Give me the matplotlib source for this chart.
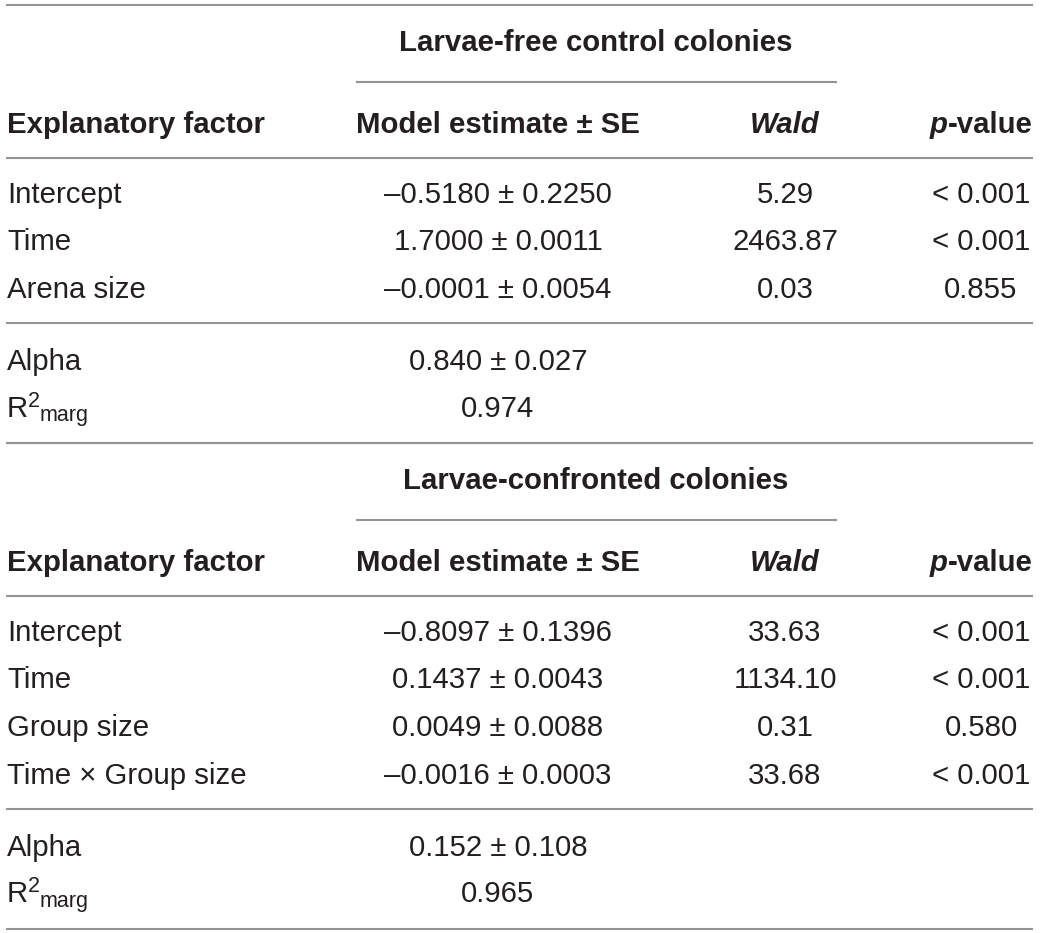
import matplotlib.pyplot as plt

# ---- table data ----
title1 = "Larvae-free control colonies"
factors1 = ["Intercept", "Time", "Arena size"]
est1 = [-0.5180, 1.7000, -0.0001]
se1 = [0.2250, 0.0011, 0.0054]
wald1 = [5.29, 2463.87, 0.03]
pval1 = ["< 0.001", "< 0.001", "0.855"]
alpha1 = (0.840, 0.027)
r2marg1 = 0.974

title2 = "Larvae-confronted colonies"
factors2 = ["Intercept", "Time", "Group size", "Time \u00d7 Group size"]
est2 = [-0.8097, 0.1437, 0.0049, -0.0016]
se2 = [0.1396, 0.0043, 0.0088, 0.0003]
wald2 = [33.63, 1134.10, 0.31, 33.68]
pval2 = ["< 0.001", "< 0.001", "0.580", "< 0.001"]
alpha2 = (0.152, 0.108)
r2marg2 = 0.965

plt.rcParams['font.family'] = ['Liberation Sans', 'DejaVu Sans']
TXT = "#231f20"
LINE = "#939393"
FS = 21.2
FS_SMALL = 15.5

X_LEFT = 7
X_EST = 498
X_WALD = 785
X_P = 981
ROW = 47.5


def fmt(v, nd):
    s = f"{v:.{nd}f}"
    return s.replace("-", "\u2013")


def hline(ax, y, x0=6, x1=1033):
    ax.plot([x0, x1], [y, y], color=LINE, lw=1.5, solid_capstyle="butt")


def draw_table(ax, top, title, factors, est, se, wald, pval, alpha, r2):
    hline(ax, top)
    ax.text(596, top + 46, title, ha="center", va="baseline", fontsize=FS,
            fontweight="bold", color=TXT)
    hline(ax, top + 77, 356, 837)

    hy = top + 128
    ax.text(X_LEFT, hy, "Explanatory factor", ha="left", va="baseline",
            fontsize=FS, fontweight="bold", color=TXT)
    ax.text(X_EST, hy, "Model estimate \u00b1 SE", ha="center", va="baseline",
            fontsize=FS, fontweight="bold", color=TXT)
    ax.text(X_WALD, hy, "Wald", ha="center", va="baseline", fontsize=FS,
            fontweight="bold", fontstyle="italic", color=TXT)
    ax.text(948, hy, "p", ha="right", va="baseline", fontsize=FS,
            fontweight="bold", fontstyle="italic", color=TXT)
    ax.text(948, hy, "-value", ha="left", va="baseline", fontsize=FS,
            fontweight="bold", color=TXT)
    hline(ax, top + 153)

    y = top + 198
    for f, e, s, w, p in zip(factors, est, se, wald, pval):
        ax.text(X_LEFT, y, f, ha="left", va="baseline", fontsize=FS, color=TXT)
        ax.text(X_EST, y, f"{fmt(e, 4)} \u00b1 {fmt(s, 4)}", ha="center",
                va="baseline", fontsize=FS, color=TXT)
        ax.text(X_WALD, y, f"{w:.2f}", ha="center", va="baseline",
                fontsize=FS, color=TXT)
        ax.text(X_P, y, p, ha="center", va="baseline", fontsize=FS, color=TXT)
        y += ROW

    line_y = y - ROW + 25
    hline(ax, line_y)

    ya = line_y + 47
    ax.text(X_LEFT, ya, "Alpha", ha="left", va="baseline", fontsize=FS, color=TXT)
    ax.text(X_EST, ya, f"{alpha[0]:.3f} \u00b1 {alpha[1]:.3f}", ha="center",
            va="baseline", fontsize=FS, color=TXT)

    yr = ya + 47
    ax.text(X_LEFT, yr, "R", ha="left", va="baseline", fontsize=FS, color=TXT)
    ax.text(X_LEFT + 21, yr - 10, "2", ha="left", va="baseline",
            fontsize=FS_SMALL, color=TXT)
    ax.text(X_LEFT + 33, yr + 4, "marg", ha="left", va="baseline",
            fontsize=FS_SMALL, color=TXT)
    ax.text(X_EST, yr, f"{r2:.3f}", ha="center", va="baseline",
            fontsize=FS, color=TXT)

    bottom = yr + 26
    hline(ax, bottom)
    return bottom


fig = plt.figure(figsize=(10.4, 9.33), dpi=100)
ax = fig.add_axes([0, 0, 1, 1])
ax.set_xlim(0, 1040)
ax.set_ylim(933, 0)
ax.axis("off")

b1 = draw_table(ax, 5, title1, factors1, est1, se1, wald1, pval1, alpha1, r2marg1)
draw_table(ax, b1, title2, factors2, est2, se2, wald2, pval2, alpha2, r2marg2)

fig.savefig("out.png", dpi=100)
